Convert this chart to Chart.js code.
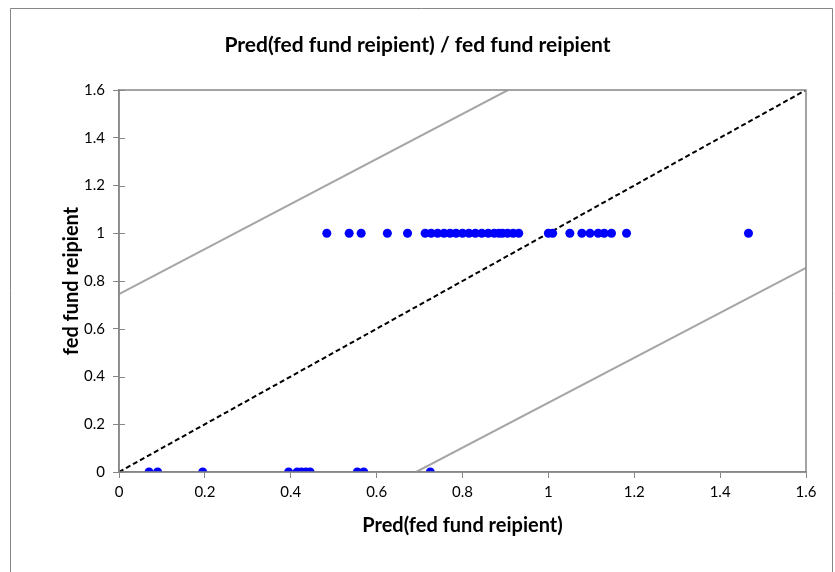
<!DOCTYPE html>
<html>
<head>
<meta charset="utf-8">
<script src="https://cdn.jsdelivr.net/npm/chart.js@4/dist/chart.umd.min.js"></script>
<style>
  html, body { margin: 0; padding: 0; background: #fff; }
  #wrap { width: 835px; height: 572px; position: relative; }
</style>
</head>
<body>
<div id="wrap"><canvas id="c" width="835" height="572"></canvas></div>
<script>
// Predicted values for observations whose actual value is 1
const predWhenOne = [0.484, 0.536, 0.564, 0.625, 0.672, 0.713, 0.727, 0.742, 0.757, 0.771,
                     0.785, 0.800, 0.815, 0.830, 0.845, 0.860, 0.874, 0.885, 0.893, 0.905,
                     0.918, 0.931, 1.000, 1.010, 1.050, 1.078, 1.097, 1.116, 1.130, 1.147,
                     1.182, 1.466];
// Predicted values for observations whose actual value is 0
const predWhenZero = [0.070, 0.090, 0.195, 0.395, 0.415, 0.425, 0.435, 0.445, 0.555, 0.570, 0.725];

// Identity line and the upper / lower bound lines (end points)
const identityLine = [{x: 0, y: 0}, {x: 1.6, y: 1.6}];
const upperBound = [{x: 0, y: 0.745}, {x: 0.906, y: 1.6}];
const lowerBound = [{x: 0.692, y: 0}, {x: 1.6, y: 0.855}];

const axisMin = 0, axisMax = 1.6, axisStep = 0.2;

const FONT = 'Lato, "DejaVu Sans", sans-serif';
const AXIS_GRAY = '#868686';

const points = predWhenOne.map(v => ({x: v, y: 1}))
  .concat(predWhenZero.map(v => ({x: v, y: 0})));

// Tick labels like 0, 0.2, ..., 1, 1.2
const fmtTick = v => String(Math.round(v * 10) / 10);

// Frame around the plot area, inner half of y-axis cross ticks, and outer chart border
const framePlugin = {
  id: 'frame',
  beforeDraw(chart) {
    const ctx = chart.ctx;
    ctx.save();
    ctx.strokeStyle = AXIS_GRAY;
    ctx.lineWidth = 1;
    ctx.beginPath();
    ctx.moveTo(10.5, 600);
    ctx.lineTo(10.5, 8.5);
    ctx.lineTo(832.5, 8.5);
    ctx.lineTo(832.5, 600);
    ctx.stroke();
    ctx.restore();
  },
  afterDatasetsDraw(chart) {
    const {ctx, chartArea: a, scales} = chart;
    ctx.save();
    ctx.strokeStyle = AXIS_GRAY;
    ctx.lineWidth = 1.5;
    ctx.strokeRect(a.left, a.top, a.right - a.left, a.bottom - a.top);
    ctx.lineWidth = 1;
    ctx.beginPath();
    scales.y.ticks.forEach(t => {
      const py = Math.round(scales.y.getPixelForValue(t.value)) + 0.5;
      ctx.moveTo(a.left, py);
      ctx.lineTo(a.left + 6, py);
    });
    ctx.stroke();
    ctx.restore();
  }
};

new Chart(document.getElementById('c'), {
  type: 'scatter',
  data: {
    datasets: [
      {
        data: upperBound, showLine: true, borderColor: '#A6A6A6', borderWidth: 2,
        pointRadius: 0, fill: false, order: 3
      },
      {
        data: lowerBound, showLine: true, borderColor: '#A6A6A6', borderWidth: 2,
        pointRadius: 0, fill: false, order: 3
      },
      {
        data: identityLine, showLine: true, borderColor: '#000000', borderWidth: 2,
        borderDash: [5, 3], pointRadius: 0, fill: false, order: 2
      },
      {
        data: points, backgroundColor: '#0000FF', borderColor: '#0000FF',
        pointRadius: 4.5, borderWidth: 0, order: 1
      }
    ]
  },
  options: {
    responsive: false,
    animation: false,
    devicePixelRatio: 1,
    layout: { padding: 0 },
    plugins: {
      legend: { display: false },
      tooltip: { enabled: false },
      title: {
        display: true,
        text: 'Pred(fed fund reipient) / fed fund reipient',
        color: '#000',
        font: { family: FONT, size: 21, weight: 'bold' },
        padding: { top: 32.4, bottom: 32.4 }
      }
    },
    scales: {
      x: {
        type: 'linear', min: axisMin, max: axisMax,
        afterFit(scale) { scale.height = 100; },
        ticks: {
          stepSize: axisStep, color: '#000', padding: 5,
          font: { family: FONT, size: 15 },
          callback: fmtTick
        },
        grid: { drawOnChartArea: false, tickLength: 6, color: AXIS_GRAY, lineWidth: 1 },
        border: { display: true, color: AXIS_GRAY, width: 1.5 },
        title: {
          display: true, text: 'Pred(fed fund reipient)', color: '#000',
          font: { family: FONT, size: 20, weight: 'bold' },
          padding: { top: 0, bottom: 34 }
        }
      },
      y: {
        type: 'linear', min: axisMin, max: axisMax,
        afterFit(scale) { scale.width = 119; },
        ticks: {
          stepSize: axisStep, color: '#000', padding: 8,
          font: { family: FONT, size: 15 },
          callback: fmtTick
        },
        grid: { drawOnChartArea: false, tickLength: 6, color: AXIS_GRAY, lineWidth: 1 },
        border: { display: true, color: AXIS_GRAY, width: 1.5 },
        title: {
          display: true, text: 'fed fund reipient', color: '#000',
          font: { family: FONT, size: 20, weight: 'bold' },
          padding: { top: 60, bottom: 0 }
        }
      },
      // empty right-hand gutter so the plot ends at the same place the reference frame does
      yGutter: {
        type: 'linear', position: 'right', min: axisMin, max: axisMax,
        afterFit(scale) { scale.width = 29; },
        ticks: { display: false },
        grid: { display: false },
        border: { display: false }
      }
    }
  },
  plugins: [framePlugin]
});
</script>
</body>
</html>
